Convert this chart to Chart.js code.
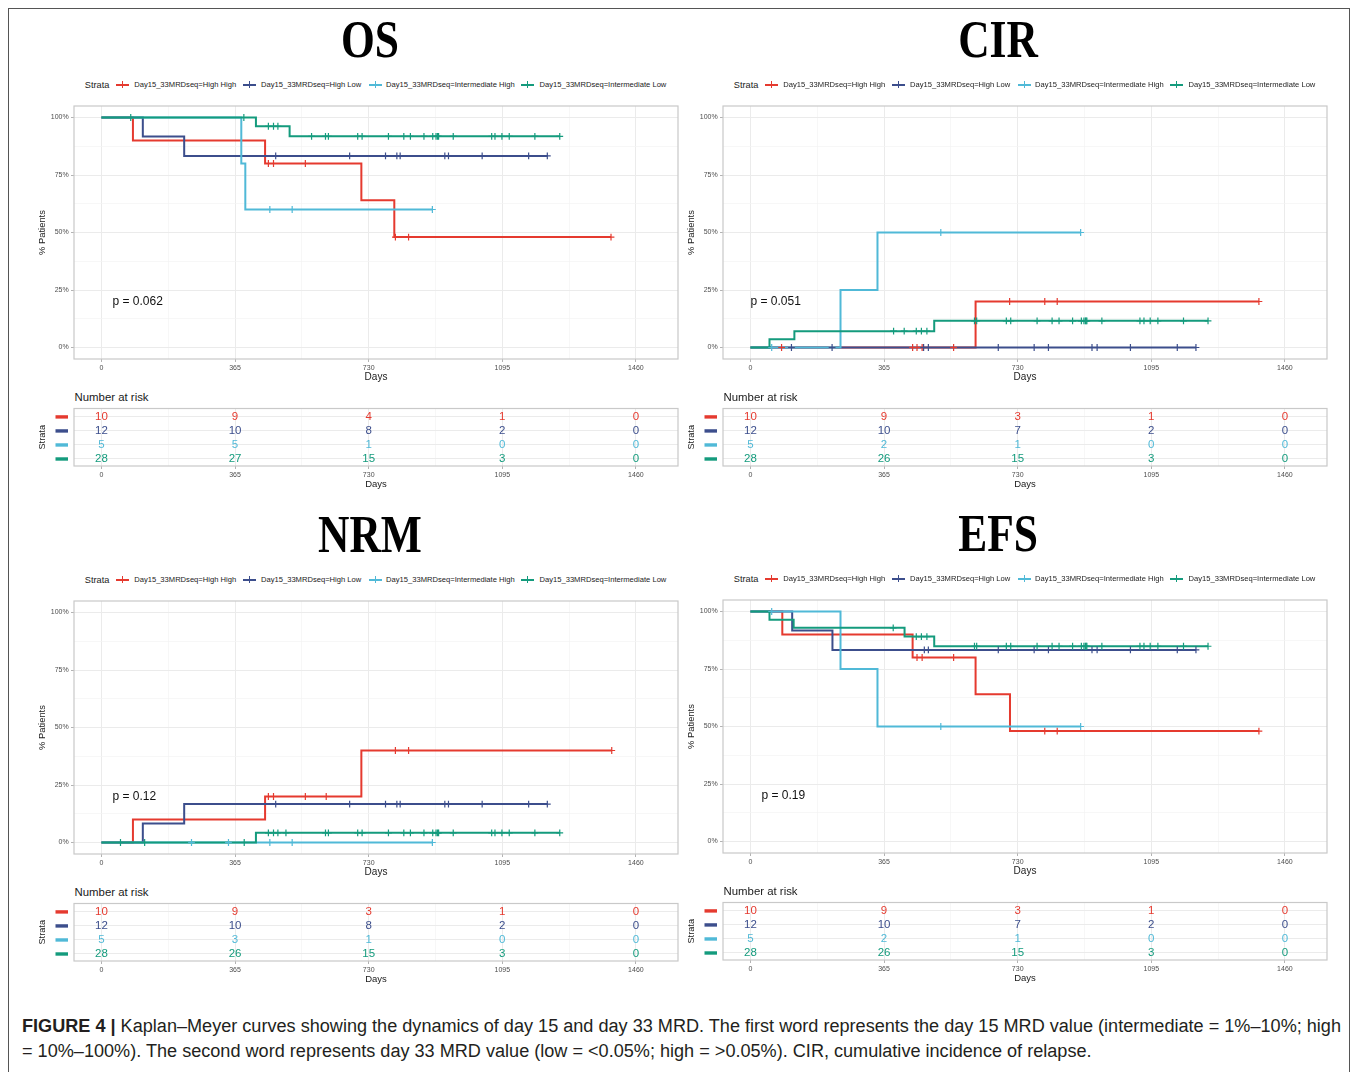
<!DOCTYPE html>
<html>
<head>
<meta charset="utf-8">
<script src="https://cdn.jsdelivr.net/npm/chart.js@4.4.1/dist/chart.umd.min.js"></script>
<style>
  body { margin: 0; background: #fff; width: 1358px; height: 1072px; position: relative; overflow: hidden;
         font-family: 'Liberation Sans', Arial, Helvetica, sans-serif; color: #1a1a1a; }
  .abs { position: absolute; white-space: nowrap; }
  #frame { left: 8px; top: 8px; width: 1342px; height: 1090px; border: 1.5px solid #555; box-sizing: border-box; }
  .ttl { font-family: 'Liberation Serif', 'Times New Roman', serif; font-weight: bold; font-size: 53px;
         line-height: 53px; width: 300px; text-align: center; transform: scaleX(0.82); color: #000; }
  #cap { left: 22px; top: 1014px; font-size: 18px; line-height: 24.5px; color: #231f20; transform-origin: 0 0; }
</style>
</head>
<body>
<div id="frame" class="abs"></div>
<div id="cap" class="abs"><span id="cap1"><b>FIGURE 4 |</b> Kaplan–Meyer curves showing the dynamics of day 15 and day 33 MRD. The first word represents the day 15 MRD value (intermediate = 1%–10%; high</span><br>= 10%–100%). The second word represents day 33 MRD value (low = &lt;0.05%; high = &gt;0.05%). CIR, cumulative incidence of relapse.</div>
<script>
const family = "'Liberation Sans', Arial, Helvetica, sans-serif";
Chart.defaults.font.family = family;

const strataNames = ['Day15_33MRDseq=High High', 'Day15_33MRDseq=High Low', 'Day15_33MRDseq=Intermediate High', 'Day15_33MRDseq=Intermediate Low'];
const strataColors = ['#E53A2F', '#3C4E8C', '#50B9D7', '#149B7D'];
const xTicks = [0, 365, 730, 1095, 1460];
const xMinor = [182.5, 547.5, 912.5, 1277.5];
const yTicks = [0, 25, 50, 75, 100];
const yMinor = [12.5, 37.5, 62.5, 87.5];
const riskTimes = [0, 365, 730, 1095, 1460];

// OS
const osTimes = [[0, 86, 447, 710, 800, 1392], [0, 113, 226, 1218], [0, 382, 393, 904], [0, 422, 514, 1252]];
const osSurv = [[100, 90, 80, 64, 48, 48], [100, 91.7, 83.3, 83.3], [100, 80, 60, 60], [100, 96.2, 91.8, 91.8]];
const osCensor = [
  [456, 470, 557, 803, 839, 1392],
  [476, 678, 776, 807, 816, 938, 948, 1040, 1167, 1218],
  [460, 521, 904],
  [80, 389, 456, 470, 482, 574, 612, 620, 700, 712, 784, 826, 844, 881, 905, 914, 918, 921, 961, 1066, 1075, 1094, 1114, 1184, 1252]
];
const osRisk = [[10, 9, 4, 1, 0], [12, 10, 8, 2, 0], [5, 5, 1, 0, 0], [28, 27, 15, 3, 0]];

// CIR
const cirTimes = [[0, 615, 1389], [0, 1217], [0, 246, 347, 902], [0, 52, 120, 502, 1250]];
const cirSurv = [[0, 20, 20], [0, 0], [0, 25, 50, 50], [0, 3.6, 7.1, 11.6, 11.6]];
const cirCensor = [
  [85, 443, 455, 469, 555, 708, 804, 838, 1389],
  [112, 223, 473, 486, 677, 775, 814, 933, 947, 1038, 1166, 1217],
  [58, 520, 902],
  [391, 420, 453, 467, 482, 612, 618, 699, 711, 783, 824, 843, 880, 904, 911, 915, 917, 919, 960, 1064, 1075, 1092, 1113, 1183, 1250]
];
const cirRisk = [[10, 9, 3, 1, 0], [12, 10, 7, 2, 0], [5, 2, 1, 0, 0], [28, 26, 15, 3, 0]];

// NRM
const nrmTimes = [[0, 86, 447, 710, 1394], [0, 113, 226, 1218], [0, 904], [0, 422, 1252]];
const nrmSurv = [[0, 10, 20, 40, 40], [0, 8.3, 16.7, 16.7], [0, 0], [0, 4.2, 4.2]];
const nrmCensor = [
  [456, 470, 557, 614, 803, 839, 1394],
  [476, 678, 776, 807, 816, 938, 948, 1040, 1167, 1218],
  [246, 347, 460, 521, 904],
  [52, 118, 390, 456, 470, 482, 504, 612, 620, 700, 712, 784, 826, 844, 881, 905, 914, 918, 921, 961, 1066, 1075, 1094, 1114, 1184, 1252]
];
const nrmRisk = [[10, 9, 3, 1, 0], [12, 10, 8, 2, 0], [5, 3, 1, 0, 0], [28, 26, 15, 3, 0]];

// EFS
const efsTimes = [[0, 87, 443, 615, 709, 1389], [0, 114, 224, 1217], [0, 246, 347, 902], [0, 52, 118, 421, 502, 1250]];
const efsSurv = [[100, 90, 80, 64, 48, 48], [100, 91.7, 83.3, 83.3], [100, 75, 50, 50], [100, 96.4, 92.9, 89.1, 84.9, 84.9]];
const efsCensor = [
  [455, 469, 555, 804, 838, 1389],
  [475, 486, 677, 775, 814, 933, 947, 1038, 1166, 1217],
  [58, 520, 902],
  [390, 453, 467, 482, 612, 618, 699, 711, 783, 824, 843, 880, 904, 911, 915, 917, 919, 960, 1064, 1075, 1092, 1113, 1183, 1250]
];
const efsRisk = [[10, 9, 3, 1, 0], [12, 10, 7, 2, 0], [5, 2, 1, 0, 0], [28, 26, 15, 3, 0]];

const panels = [
  { title: 'OS', titleX: 370, ox: 0, oy: 0, times: osTimes, surv: osSurv, cens: osCensor, risk: osRisk, p: 'p = 0.062', px: 30 },
  { title: 'CIR', titleX: 997.5, ox: 649, oy: 0, times: cirTimes, surv: cirSurv, cens: cirCensor, risk: cirRisk, p: 'p = 0.051', px: 0 },
  { title: 'NRM', titleX: 369.5, ox: 0, oy: 495, times: nrmTimes, surv: nrmSurv, cens: nrmCensor, risk: nrmRisk, p: 'p = 0.12', px: 30 },
  { title: 'EFS', titleX: 997.5, ox: 649, oy: 494, times: efsTimes, surv: efsSurv, cens: efsCensor, risk: efsRisk, p: 'p = 0.19', px: 30 }
];

function stepValue(times, vals, t) {
  let v = vals[0];
  for (let i = 0; i < times.length; i++) if (times[i] <= t) v = vals[i];
  return v;
}

function gridFor(major, minorColor) {
  const isMajor = c => c.tick && major.includes(c.tick.value);
  return {
    color: c => isMajor(c) ? '#EBEBEB' : minorColor,
    lineWidth: c => isMajor(c) ? 1 : 0.7,
    tickLength: 3,
    tickColor: c => isMajor(c) ? '#B3B3B3' : 'rgba(0,0,0,0)'
  };
}

const framePlugin = {
  id: 'frame',
  beforeDatasetsDraw(chart) {
    const a = chart.chartArea, ctx = chart.ctx;
    ctx.save();
    ctx.strokeStyle = '#C9C9C9';
    ctx.lineWidth = 1.2;
    ctx.strokeRect(a.left, a.top, a.right - a.left, a.bottom - a.top);
    ctx.restore();
  }
};

const pvalPlugin = {
  id: 'pval',
  afterDatasetsDraw(chart, args, o) {
    const ctx = chart.ctx;
    ctx.save();
    ctx.font = '12px ' + family;
    ctx.fillStyle = '#111';
    ctx.textAlign = 'left';
    ctx.textBaseline = 'middle';
    ctx.fillText(o.text, chart.scales.x.getPixelForValue(o.x), chart.scales.y.getPixelForValue(o.y));
    ctx.restore();
  }
};

const riskPlugin = {
  id: 'risk',
  afterDatasetsDraw(chart, args, o) {
    const { ctx, chartArea: a, scales: { x, y } } = chart;
    ctx.save();
    ctx.font = '11.5px ' + family;
    ctx.textAlign = 'center';
    ctx.textBaseline = 'middle';
    o.rows.forEach((row, s) => {
      const py = y.getPixelForValue(s + 1);
      ctx.fillStyle = strataColors[s];
      row.forEach((n, i) => ctx.fillText(String(n), x.getPixelForValue(riskTimes[i]), py));
      ctx.fillRect(a.left - 18.5, py - 1.7, 12.5, 3.4);
    });
    ctx.restore();
  }
};

function xScale(titleSize, titlePad, axisHeight) {
  return {
    type: 'linear', min: -75, max: 1575,
    afterBuildTicks: sc => { sc.ticks = xTicks.concat(xMinor).map(v => ({ value: v })); },
    afterFit: sc => { sc.height = axisHeight; },
    ticks: { autoSkip: false, maxRotation: 0, padding: 1.5, color: '#4D4D4D', font: { size: 7 },
             callback: v => xTicks.includes(v) ? String(v) : '' },
    grid: gridFor(xTicks, '#F4F4F4'),
    border: { display: false },
    title: { display: true, text: 'Days', color: '#1A1A1A', font: { size: titleSize }, padding: { top: 0, bottom: titlePad } }
  };
}

function mkCanvas(left, top, w, h) {
  const c = document.createElement('canvas');
  c.width = w; c.height = h;
  c.className = 'abs';
  c.style.left = left + 'px';
  c.style.top = top + 'px';
  c.style.width = w + 'px';
  c.style.height = h + 'px';
  document.body.appendChild(c);
  return c;
}

function addDiv(text, left, top, css) {
  const d = document.createElement('div');
  d.className = 'abs';
  d.textContent = text;
  d.style.cssText += 'left:' + left + 'px;top:' + top + 'px;' + css;
  document.body.appendChild(d);
  return d;
}

const legendKeyX = [122.6, 250, 376, 528];
const legendTextX = [134.7, 261.5, 386.6, 540];

panels.forEach(pn => {
  const { ox, oy } = pn;

  // title
  const t = addDiv(pn.title, pn.titleX - 150, 12.6 + oy, '');
  t.classList.add('ttl');

  // legend
  const ly = 84.5 + oy;
  addDiv('Strata', 85.3 + ox - 0.5, ly - 6, 'font-size:9.2px;line-height:12px;');
  strataNames.forEach((name, s) => {
    const kx = legendKeyX[s] + ox - 0.5;
    addDiv('', kx - 6.5, ly - 1, 'width:13px;height:2px;background:' + strataColors[s] + ';');
    addDiv('', kx - 0.6, ly - 3.5, 'width:1.2px;height:7px;background:' + strataColors[s] + ';');
    addDiv(name, legendTextX[s] + ox - 0.5, ly - 5, 'font-size:7.6px;line-height:10px;color:#222;');
  });

  // survival plot
  const kmCanvas = mkCanvas(30 + ox, 96 + oy, 655, 294);
  const datasets = [];
  for (let s = 0; s < 4; s++) {
    const col = strataColors[s];
    datasets.push({
      data: pn.times[s].map((tt, i) => ({ x: tt, y: pn.surv[s][i] })),
      showLine: true, stepped: 'before', borderColor: col, borderWidth: 2,
      pointRadius: 0, order: 10 + (3 - s)
    });
    datasets.push({
      data: pn.cens[s].map(tt => ({ x: tt, y: stepValue(pn.times[s], pn.surv[s], tt) })),
      showLine: false, pointStyle: 'cross', pointRadius: 3.4, pointBorderWidth: 1.2,
      pointBorderColor: col, pointBackgroundColor: col, order: 3 - s
    });
  }
  new Chart(kmCanvas, {
    type: 'scatter',
    data: { datasets },
    plugins: [framePlugin, pvalPlugin],
    options: {
      responsive: false, animation: false, devicePixelRatio: 1, events: [],
      layout: { padding: { top: 10, right: 7, left: 0, bottom: 0 } },
      plugins: { legend: { display: false }, tooltip: { enabled: false }, pval: { text: pn.p, x: pn.px, y: 20 } },
      scales: {
        x: xScale(10, 6.7, 31),
        y: {
          type: 'linear', min: -5, max: 105,
          afterBuildTicks: sc => { sc.ticks = yTicks.concat(yMinor).map(v => ({ value: v })); },
          afterFit: sc => { sc.width = 44; },
          ticks: { autoSkip: false, padding: 2.3, color: '#4D4D4D', font: { size: 7 },
                   callback: v => yTicks.includes(v) ? v + '%' : '' },
          grid: gridFor(yTicks, '#F4F4F4'),
          border: { display: false },
          title: { display: true, text: '% Patients', color: '#1A1A1A', font: { size: 9.4 }, padding: { top: 6.9, bottom: 0 } }
        }
      }
    }
  });

  // number at risk
  addDiv('Number at risk', 74.5 + ox, 397.3 + oy - 7, 'font-size:11.4px;line-height:14px;');
  const riskCanvas = mkCanvas(30 + ox, 400 + oy, 655, 92);
  new Chart(riskCanvas, {
    type: 'scatter',
    data: { datasets: [{ data: [] }] },
    plugins: [framePlugin, riskPlugin],
    options: {
      responsive: false, animation: false, devicePixelRatio: 1, events: [],
      layout: { padding: { top: 8.5, right: 7, left: 0, bottom: 0 } },
      plugins: { legend: { display: false }, tooltip: { enabled: false }, risk: { rows: pn.risk } },
      scales: {
        x: xScale(9.5, 2, 26),
        y: {
          type: 'linear', min: 0.4, max: 4.5, reverse: true,
          afterBuildTicks: sc => { sc.ticks = [1, 2, 3, 4].map(v => ({ value: v })); },
          afterFit: sc => { sc.width = 44; },
          ticks: { callback: () => '', padding: 0 },
          grid: { color: '#EBEBEB', lineWidth: 1, drawTicks: false },
          border: { display: false },
          title: { display: true, text: 'Strata', color: '#1A1A1A', font: { size: 9.2 }, padding: { top: 6.8, bottom: 0 } }
        }
      }
    }
  });
});

// fit caption width to the reference line length
const cap1 = document.getElementById('cap1');
const w = cap1.getBoundingClientRect().width;
document.getElementById('cap').style.transform = 'scaleX(' + (1319 / w) + ')';
</script>
</body>
</html>
